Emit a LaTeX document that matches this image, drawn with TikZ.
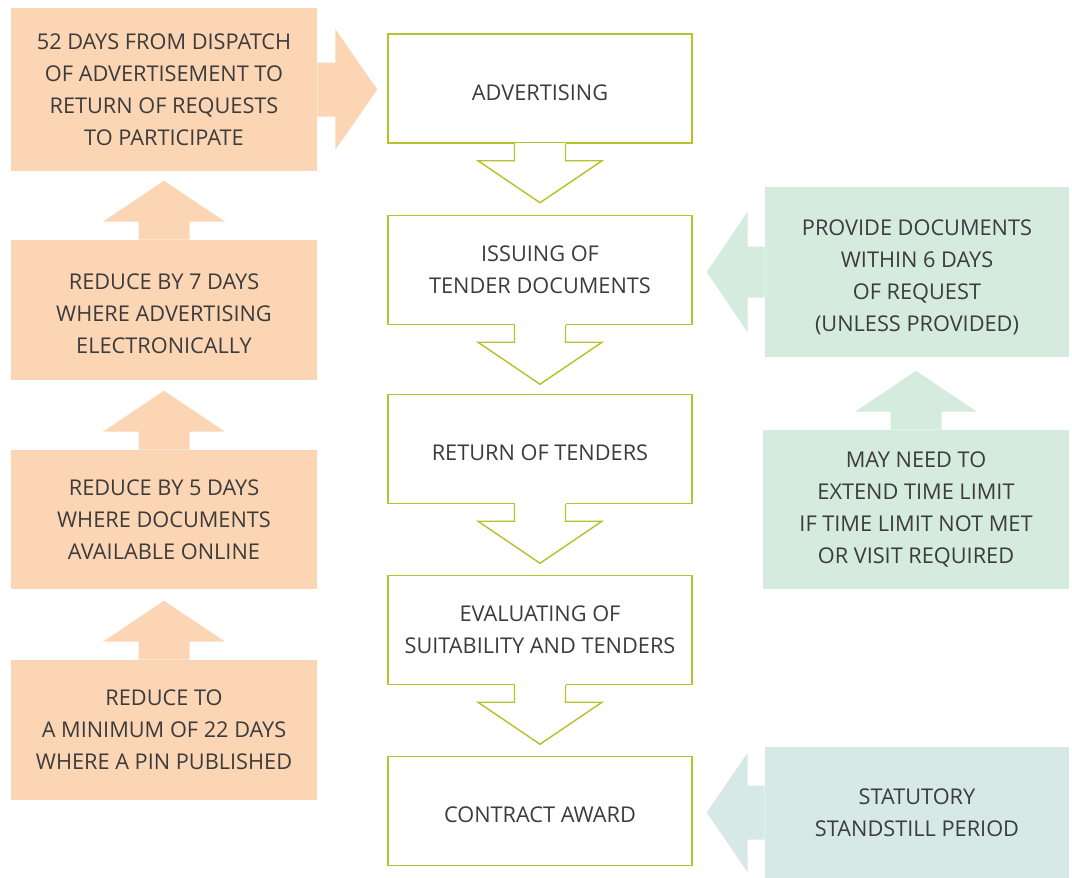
\documentclass[tikz,border=0pt]{standalone}
\usepackage{fontspec}
\setmainfont{Open Sans}
\usepackage{tikz}
\usetikzlibrary{calc}
\usetikzlibrary{positioning}
\definecolor{peach}{HTML}{FCD5B4}
\definecolor{mint}{HTML}{D4EBDD}
\definecolor{aqua}{HTML}{D6E9E7}
\definecolor{olivel}{HTML}{B7C22E}
\definecolor{inkgray}{HTML}{3C3C3C}
\tikzset{x=0.75pt, y=-0.75pt,
	every node/.style={
		text=inkgray,
		align=center,
		font=\fontsize{16.3}{24}\selectfont},
	lowered/.style={
		execute at begin node={\rule{0pt}{17.6pt}}},
	stage/.style={
		draw=olivel,
		line width=1.1pt,
		minimum width=304*0.75pt,
		minimum height=109*0.75pt},
	stageline/.style={
		draw=olivel,
		line width=1.1pt,
		line join=miter},
	note/.style={
		minimum width=306*0.75pt,
		inner sep=0pt},
	orange note/.style={note, fill=peach},
	green note/.style={note, fill=mint},
	aqua note/.style={note, fill=aqua}
}

\begin{document}
\begin{tikzpicture}
	\useasboundingbox (0,0) rectangle (1072,878);
	% main stages
	\node[stage, lowered] (adv) at (540,88.5) {ADVERTISING};
	\node[stage] (issue) at (540,270) {ISSUING OF\\TENDER DOCUMENTS};
	\node[stage, lowered] (ret) at (540,449) {RETURN OF TENDERS};
	\node[stage] (eval) at (540,630) {EVALUATING OF\\SUITABILITY AND TENDERS};
	\node[stage, lowered] (award) at (540,811) {CONTRACT AWARD};
	% arrows between stages
	\foreach \b in {adv,issue,ret,eval} {
		\draw[white, line width=1.6pt] ($(\b.south)+(-25.5,0)$) -- ($(\b.south)+(25.5,0)$);
		\draw[stageline] ($(\b.south)+(-25.5,0)$) -- ++(0,17) -- ++(-36.5,0)
			-- ++(62,42) -- ++(62,-42) -- ++(-36.5,0) -- ++(0,-17);
	}
	% time limits (left)
	\node[orange note, minimum height=163*0.75pt] (days) at (164,89.5)
		{52 DAYS FROM DISPATCH\\OF ADVERTISEMENT TO\\RETURN OF REQUESTS\\TO PARTICIPATE};
	\node[orange note, text height=65.8pt, minimum height=140*0.75pt] (elec) at (164,310)
		{REDUCE BY 7 DAYS\\WHERE ADVERTISING\\ELECTRONICALLY};
	\node[orange note, minimum height=139*0.75pt] (online) at (164,519.5)
		{REDUCE BY 5 DAYS\\WHERE DOCUMENTS\\AVAILABLE ONLINE};
	\node[orange note, minimum height=140*0.75pt] (pin) at (164,730)
		{REDUCE TO\\A MINIMUM OF 22 DAYS\\WHERE A PIN PUBLISHED};
	\foreach \b in {elec,online,pin} {
		\fill[peach] ($(\b.north)+(-25.5,0)$) -- ++(0,-18) -- ++(-35.5,0)
			-- ++(61,-41) -- ++(61,41) -- ++(-35.5,0) -- ++(0,18) -- cycle;
	}
	\fill[peach] ($(days.east)+(0,-27)$) -- ++(18,0) -- ++(0,-33.5)
		-- ++(42,60.5) -- ++(-42,60.5) -- ++(0,-33.5) -- ++(-18,0) -- cycle;
	% notes (right)
	\node[green note, text height=91.3pt, minimum width=304*0.75pt, minimum height=170*0.75pt] (provide) at (917,272)
		{PROVIDE DOCUMENTS\\WITHIN 6 DAYS\\OF REQUEST\\(UNLESS PROVIDED)};
	\node[green note, minimum height=159*0.75pt] (extend) at (916,509.5)
		{MAY NEED TO\\EXTEND TIME LIMIT\\IF TIME LIMIT NOT MET\\OR VISIT REQUIRED};
	\node[aqua note, minimum width=304*0.75pt, minimum height=131*0.75pt] (standstill) at (917,812.5)
		{STATUTORY\\STANDSTILL PERIOD};
	\fill[mint] ($(extend.north)+(-25.5,0)$) -- ++(0,-18) -- ++(-35.5,0)
		-- ++(61,-41) -- ++(61,41) -- ++(-35.5,0) -- ++(0,18) -- cycle;
	\fill[mint] ($(provide.west)+(0,-25.5)$) -- ++(-17,0) -- ++(0,-35)
		-- ++(-41,60.5) -- ++(41,60.5) -- ++(0,-35) -- ++(17,0) -- cycle;
	\fill[aqua] ($(standstill.west)+(0,-27)$) -- ++(-17,0) -- ++(0,-33)
		-- ++(-41,60) -- ++(41,60) -- ++(0,-33) -- ++(17,0) -- cycle;
\end{tikzpicture}
\end{document}
